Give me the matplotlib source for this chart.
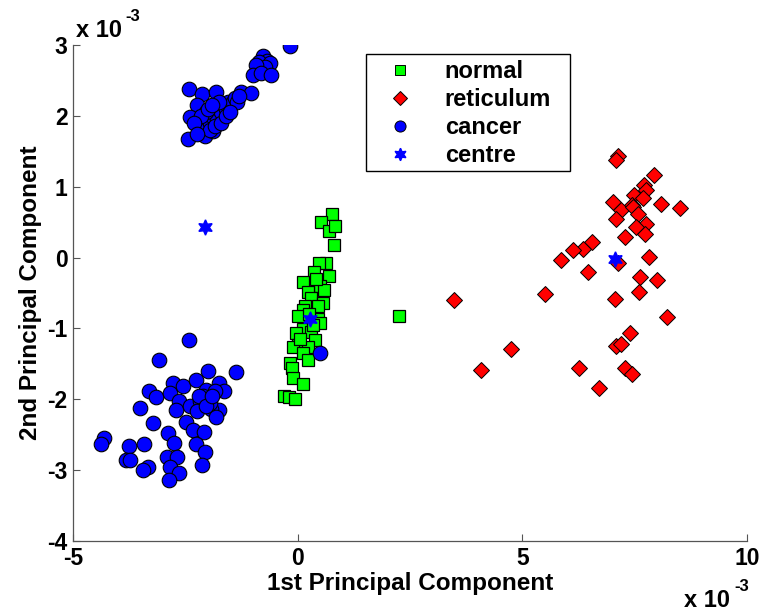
import matplotlib
matplotlib.use("Agg")
import matplotlib.pyplot as plt
from matplotlib.lines import Line2D
from matplotlib.patches import Rectangle

plt.rcParams['font.family'] = ['Liberation Sans', 'DejaVu Sans']
plt.rcParams['font.weight'] = 'bold'

# ---- data (units of 1e-3) ----
normal_x = [0.76, 0.53, 0.70, 0.83, 0.81, 0.62, 0.47, 0.36, 0.70, 0.12, 0.49, 0.58, 0.22, 0.30,
            0.56, 0.45, 0.16, 0.12, 0.01, 0.45, 0.49, 0.12, -0.03, 0.30, 0.38, 0.01, -0.10, 0.23,
            0.12, 0.23, -0.18, -0.12, -0.10, 0.12, -0.31, -0.19, -0.07, 2.25, 0.25, 0.35, 0.05, 0.40]
normal_y = [0.61, 0.50, 0.38, 0.44, 0.18, -0.07, -0.08, -0.21, -0.26, -0.35, -0.40, -0.46, -0.48, -0.57,
            -0.64, -0.68, -0.69, -0.74, -0.82, -0.86, -0.93, -1.01, -1.07, -1.05, -1.16, -1.23, -1.26, -1.26,
            -1.35, -1.45, -1.49, -1.56, -1.70, -1.78, -1.95, -1.97, -2.00, -0.82, -0.80, -0.95, -1.15, -0.30]

retic_x = [7.14, 7.09, 7.92, 7.70, 7.76, 7.49, 7.69, 7.02, 8.09, 8.50, 7.43, 7.20, 7.46, 7.57,
           7.08, 7.75, 7.54, 7.72, 7.29, 6.54, 6.34, 6.13, 5.85, 7.82, 7.13, 6.47, 7.61, 7.99,
           7.60, 7.06, 5.50, 3.49, 8.23, 7.39, 7.09, 7.20, 4.74, 4.09, 6.26, 7.28, 7.43, 6.71]
retic_y = [1.43, 1.38, 1.17, 1.03, 0.95, 0.88, 0.84, 0.79, 0.76, 0.70, 0.74, 0.67, 0.72, 0.62,
           0.54, 0.48, 0.43, 0.33, 0.29, 0.22, 0.12, 0.11, -0.04, 0.01, -0.08, -0.21, -0.28, -0.31,
           -0.49, -0.58, -0.52, -0.60, -0.84, -1.07, -1.25, -1.22, -1.29, -1.59, -1.56, -1.56, -1.65, -1.84]

cancer_x = [-0.16, -0.77, -0.68, -0.85, -0.61, -0.73, -0.93, -0.99, -0.81, -0.59, -2.42, -2.14, -1.81,
            -1.25, -1.03, -2.25, -2.40, -2.44, -2.07, -1.89,
            -2.20, -2.10, -2.00, -1.95, -1.90, -1.85, -1.80, -1.75, -1.70, -1.65, -1.60, -1.55, -1.50,
            -1.45, -1.40, -1.35, -1.30, -2.05, -2.15, -1.95, -1.85, -2.30, -1.70, -1.60, -2.00, -1.75,
            -1.50, -2.25, -1.90,
            0.49,
            -2.42, -3.09, -2.00, -1.38, -3.31, -3.16, -2.78, -2.85, -2.55, -2.27, -2.03, -1.74, -1.65,
            -1.85, -2.63, -2.70, -2.40, -2.18, -2.00, -1.74, -1.92, -1.81, -2.25, -2.48, -3.52, -3.23,
            -2.33, -2.09, -2.89, -2.76, -4.30, -4.37, -3.75, -3.42, -2.27, -2.07, -2.91, -2.69, -3.83,
            -3.74, -2.14, -3.33, -3.44, -2.85, -2.64, -2.86, -2.10, -1.95, -2.20, -2.05, -1.90]
cancer_y = [2.99, 2.85, 2.78, 2.76, 2.74, 2.69, 2.72, 2.58, 2.60, 2.58, 2.38, 2.31, 2.33,
            2.34, 2.32, 2.15, 1.98, 1.68, 1.71, 1.78,
            1.85, 1.90, 1.95, 1.90, 2.00, 2.05, 1.95, 2.10, 2.05, 2.15, 2.10, 2.20, 2.15,
            2.20, 2.25, 2.20, 2.28, 2.05, 2.00, 1.80, 1.85, 1.90, 1.90, 2.00, 2.10, 2.20,
            2.05, 1.75, 2.15,
            -1.34,
            -1.17, -1.44, -1.60, -1.62, -1.88, -1.97, -1.77, -1.91, -1.81, -1.73, -1.87, -1.77, -1.89,
            -1.89, -2.03, -2.15, -2.10, -2.03, -2.01, -2.15, -2.14, -2.25, -2.17, -2.32, -2.13, -2.34,
            -2.43, -2.46, -2.48, -2.61, -2.54, -2.63, -2.66, -2.63, -2.63, -2.75, -2.81, -2.81, -2.85,
            -2.85, -2.93, -2.95, -3.00, -2.95, -3.04, -3.14, -1.95, -2.05, -1.95, -2.10, -1.95]

centre_x = [-2.07, 0.28, 7.06]
centre_y = [0.43, -0.87, -0.02]

legend_labels = ['normal', 'reticulum', 'cancer', 'centre']
x_ticks = [-5, 0, 5, 10]
y_ticks = [-4, -3, -2, -1, 0, 1, 2, 3]

# ---- figure ----
W, H = 765, 613
AX_L, AX_R, AX_T, AX_B = 73, 747, 45, 541
fig = plt.figure(figsize=(W / 100, H / 100), dpi=100)
ax = fig.add_axes([AX_L / W, 1 - AX_B / H, (AX_R - AX_L) / W, (AX_B - AX_T) / H])

def afrac(px, py):
    return (px - AX_L) / (AX_R - AX_L), 1 - (py - AX_T) / (AX_B - AX_T)

ms_sq = 8.6
ms_c = 10.5
ax.plot(normal_x, normal_y, 's', color='#00ff00', mec='black', mew=0.9, ms=ms_sq, ls='none', zorder=2)
ax.plot(retic_x, retic_y, 'D', color='#ff0000', mec='black', mew=0.7, ms=ms_sq, ls='none', zorder=3)
ax.plot(cancer_x, cancer_y, 'o', color='#0000ff', mec='black', mew=0.8, ms=ms_c, ls='none', zorder=4)
ax.plot(centre_x, centre_y, marker=(6, 1, 0), color='#0000ff', mec='#0000ff', ms=11, ls='none', zorder=5)

ax.set_xlim(-5, 10)
ax.set_ylim(-4, 3)
ax.set_xticks(x_ticks)
ax.set_yticks(y_ticks)
ax.set_xticklabels([str(t) for t in x_ticks])
ax.set_yticklabels([str(t) for t in y_ticks])
for s in ['top', 'right']:
    ax.spines[s].set_visible(False)
for s in ['left', 'bottom']:
    ax.spines[s].set_color('#555555')
    ax.spines[s].set_linewidth(0.9)
ax.tick_params(direction='in', length=5, width=0.8, color='#555555', labelsize=16.5, pad=4)
for lab in ax.get_xticklabels() + ax.get_yticklabels():
    lab.set_fontweight('bold')

ax.set_xlabel('1st Principal Component', fontsize=17.5, fontweight='bold', labelpad=2)
ax.set_ylabel('2nd Principal Component', fontsize=17.5, fontweight='bold', labelpad=4)

handles = [
    Line2D([], [], marker='s', color='#00ff00', mec='black', mew=0.7, ms=6.5, ls='none'),
    Line2D([], [], marker='D', color='#ff0000', mec='black', mew=0.7, ms=7, ls='none'),
    Line2D([], [], marker='o', color='#0000ff', mec='black', mew=0.7, ms=8, ls='none'),
    Line2D([], [], marker=(6, 1, 0), color='#0000ff', mec='#0000ff', ms=9, ls='none'),
]
# legend frame (drawn separately for MATLAB-like right padding)
x0, y1 = afrac(366, 54)
x1, y0 = afrac(570, 171)
ax.add_patch(Rectangle((x0, y0), x1 - x0, y1 - y0, transform=ax.transAxes, facecolor='white',
                       edgecolor='black', linewidth=1.0, zorder=9))
leg = ax.legend(handles, legend_labels, loc='upper left', bbox_to_anchor=afrac(366, 54),
                frameon=False,
                prop={'family': 'Liberation Sans', 'weight': 'bold', 'size': 17},
                borderpad=0.25, labelspacing=0.22, handletextpad=0.68, handlelength=2.4, borderaxespad=0)
leg.set_zorder(10)

# exponent labels
fig.text(76 / W, 1 - 37 / H, 'x 10', fontsize=17, fontweight='bold', ha='left', va='baseline')
fig.text(125 / W, 1 - 21 / H, '-3', fontsize=12, fontweight='bold', ha='left', va='baseline')
fig.text(684 / W, 1 - 607 / H, 'x 10', fontsize=17, fontweight='bold', ha='left', va='baseline')
fig.text(734 / W, 1 - 591 / H, '-3', fontsize=12, fontweight='bold', ha='left', va='baseline')

fig.savefig('out.png', dpi=100)
